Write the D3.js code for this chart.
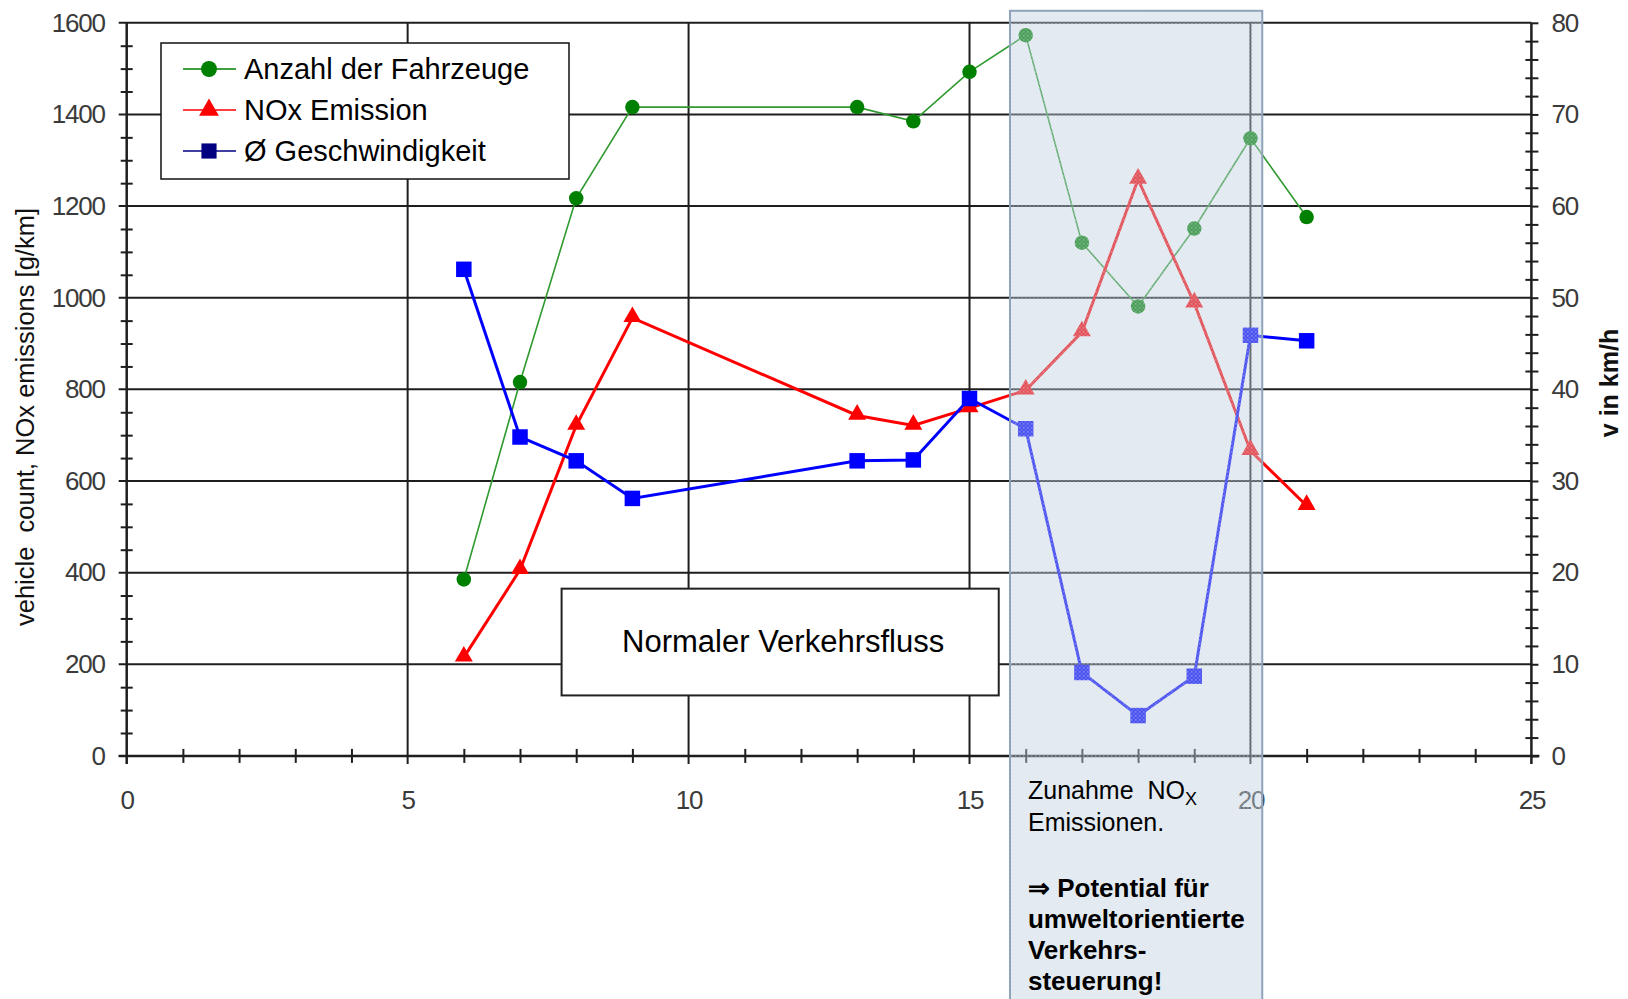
<!DOCTYPE html>
<html><head><meta charset="utf-8">
<script src="https://cdn.jsdelivr.net/npm/d3@7"></script>
<style>body{margin:0;background:#fff;overflow:hidden}</style>
</head><body><svg id="c" width="1628" height="999"></svg>
<script>
// ---- data ----
const xValues = [6,7,8,9,13,14,15,16,17,18,19,20,21];
const vehicleCount = [385,816,1217,1416,1416,1385,1493,1573,1120,981,1151,1348,1176];
const noxEmission = [215,406,721,956,743,721,759,798,925,1258,988,666,546];
const avgSpeed = [53.1,34.8,32.2,28.1,32.2,32.3,39.0,35.7,9.1,4.4,8.7,45.9,45.3];
const xTicks = [0,5,10,15,20,25];
const leftTicks = [0,200,400,600,800,1000,1200,1400,1600];
const rightTicks = [0,10,20,30,40,50,60,70,80];
const seriesNames = ["Anzahl der Fahrzeuge","NOx Emission","Ø Geschwindigkeit"];
const leftAxisTitle = "vehicle  count, NOx emissions [g/km]";
const rightAxisTitle = "v in km/h";
const boxLabel = "Normaler Verkehrsfluss";
const boxRange = {x:[7.74,15.52], y:[365,132]};
const highlightRange = [15.72, 20.21];
const noteLines1 = ["Zunahme  NO", "Emissionen."];
const noteLines2 = ["\u21D2 Potential für", "umweltorientierte", "Verkehrs-", "steuerung!"];

// ---- layout ----
const svg = d3.select("#c");
const m = {left:126.7, top:22.8};
const W = 1404.7, H = 733.1;
const g = svg.append("g").attr("transform",`translate(${m.left},${m.top})`);
const x = d3.scaleLinear().domain([0,25]).range([0,W]);
const yL = d3.scaleLinear().domain([0,1600]).range([H,0]);
const yR = d3.scaleLinear().domain([0,80]).range([H,0]);
const FONT = "'Liberation Sans', Arial, sans-serif";
const gridCol = "#1e1e1e";

// pattern for highlight
const defs = svg.append("defs");
const pat = defs.append("pattern").attr("id","hatch").attr("patternUnits","userSpaceOnUse")
  .attr("width",4).attr("height",4);
pat.append("rect").attr("width",4).attr("height",4).attr("fill","rgba(172,192,214,0.38)");
pat.append("circle").attr("cx",1).attr("cy",1).attr("r",0.9).attr("fill","rgba(255,255,255,0.45)");
pat.append("circle").attr("cx",3).attr("cy",3).attr("r",0.9).attr("fill","rgba(255,255,255,0.3)");

// gridlines
g.append("g").selectAll("line").data(leftTicks).join("line")
  .attr("x1",-8).attr("x2",W).attr("y1",d=>yL(d)).attr("y2",d=>yL(d))
  .attr("stroke",gridCol).attr("stroke-width",2);
g.append("g").selectAll("line").data(xTicks.filter(d=>d>0&&d<25)).join("line")
  .attr("y1",0).attr("y2",H+8).attr("x1",d=>x(d)).attr("x2",d=>x(d))
  .attr("stroke",gridCol).attr("stroke-width",2);

// axes lines
g.append("line").attr("x1",0).attr("x2",0).attr("y1",0).attr("y2",H+8).attr("stroke",gridCol).attr("stroke-width",2.5);
g.append("line").attr("x1",W).attr("x2",W).attr("y1",0).attr("y2",H+8).attr("stroke",gridCol).attr("stroke-width",2.5);
g.append("line").attr("x1",-8).attr("x2",W+8).attr("y1",H).attr("y2",H).attr("stroke",gridCol).attr("stroke-width",2.5);

// minor ticks
const minorL = d3.range(0,1601,50).filter(d=>d%200!==0);
const minorR = d3.range(0,81,2).filter(d=>d%10!==0);
const minorX = d3.range(0,26,1).filter(d=>d%5!==0);
function styleTicks(sel){ sel.select(".domain").remove(); sel.selectAll("line").attr("stroke",gridCol).attr("stroke-width",2); sel.selectAll("text").remove(); }
g.append("g").call(d3.axisLeft(yL).tickValues(minorL).tickSize(6).tickFormat("")).call(styleTicks);
g.append("g").call(d3.axisRight(yL).tickValues(minorL).tickSize(6).tickFormat("")).call(styleTicks);
g.append("g").attr("transform",`translate(${W},0)`).call(d3.axisLeft(yR).tickValues(minorR).tickSize(6).tickFormat("")).call(styleTicks);
g.append("g").attr("transform",`translate(${W},0)`).call(d3.axisRight(yR).tickValues(minorR.concat(rightTicks)).tickSize(7).tickFormat("")).call(styleTicks);
g.append("g").attr("transform",`translate(0,${H})`).call(d3.axisBottom(x).tickValues(minorX).tickSize(7).tickFormat("")).call(styleTicks);
g.append("g").attr("transform",`translate(0,${H})`).call(d3.axisTop(x).tickValues(minorX).tickSize(7).tickFormat("")).call(styleTicks);

// tick labels
const fmt = d3.format("d");
function styleLabels(sel){ sel.select(".domain").remove(); sel.selectAll("line").remove();
  sel.selectAll("text").attr("font-family",FONT).attr("font-size",26).attr("fill","#3a3a3a").attr("letter-spacing","-1.2"); }
g.append("g").call(d3.axisLeft(yL).tickValues(leftTicks).tickFormat(fmt).tickSize(0).tickPadding(22)).call(styleLabels);
g.append("g").attr("transform",`translate(${W},0)`).call(d3.axisRight(yR).tickValues(rightTicks).tickFormat(fmt).tickSize(0).tickPadding(20)).call(styleLabels);
g.append("g").attr("transform",`translate(0,${H})`).call(d3.axisBottom(x).tickValues(xTicks).tickFormat(fmt).tickSize(0).tickPadding(35)).call(styleLabels);

// axis titles
svg.append("text").attr("transform",`translate(34,417) rotate(-90)`).attr("text-anchor","middle")
  .attr("font-family",FONT).attr("font-size",25.5).attr("fill","#111").attr("xml:space","preserve").text(leftAxisTitle);
svg.append("text").attr("transform",`translate(1618,383) rotate(-90)`).attr("text-anchor","middle")
  .attr("font-family",FONT).attr("font-size",25).attr("font-weight","bold").attr("fill","#111").text(rightAxisTitle);

// normal traffic box
g.append("rect").attr("x",x(boxRange.x[0])).attr("y",yL(boxRange.y[0]))
  .attr("width",x(boxRange.x[1])-x(boxRange.x[0])).attr("height",yL(boxRange.y[1])-yL(boxRange.y[0]))
  .attr("fill","#fff").attr("stroke","#222").attr("stroke-width",2);
g.append("text").attr("x",(x(boxRange.x[0])+x(boxRange.x[1]))/2+3).attr("y",(yL(boxRange.y[0])+yL(boxRange.y[1]))/2)
  .attr("dy","0.33em").attr("text-anchor","middle").attr("font-family",FONT).attr("font-size",31).attr("fill","#000").text(boxLabel);

// series
const ptsG = xValues.map((d,i)=>[x(d),yL(vehicleCount[i])]);
const ptsR = xValues.map((d,i)=>[x(d),yL(noxEmission[i])]);
const ptsB = xValues.map((d,i)=>[x(d),yR(avgSpeed[i])]);
const line = d3.line();
g.append("path").attr("d",line(ptsG)).attr("fill","none").attr("stroke","#2f9a2f").attr("stroke-width",1.6);
g.append("path").attr("d",line(ptsR)).attr("fill","none").attr("stroke","#ff0000").attr("stroke-width",3);
g.append("path").attr("d",line(ptsB)).attr("fill","none").attr("stroke","#0000ff").attr("stroke-width",3);
const circ = d3.symbol().type(d3.symbolCircle).size(165);
const tri = d3.symbol().type(d3.symbolTriangle).size(140);
const sq = d3.symbol().type(d3.symbolSquare).size(240);
g.append("g").selectAll("path").data(ptsG).join("path").attr("transform",d=>`translate(${d})`).attr("d",circ).attr("fill","#008000");
g.append("g").selectAll("path").data(ptsR).join("path").attr("transform",d=>`translate(${d[0]},${d[1]-1})`).attr("d",tri).attr("fill","#ff0000");
g.append("g").selectAll("path").data(ptsB).join("path").attr("transform",d=>`translate(${d})`).attr("d",sq).attr("fill","#0000ff");

// highlight overlay
const hx0 = x(highlightRange[0]), hx1 = x(highlightRange[1]);
g.append("rect").attr("x",hx0).attr("y",yL(1600)-12).attr("width",hx1-hx0).attr("height",1100)
  .attr("fill","url(#hatch)").attr("stroke","#8fa3b9").attr("stroke-width",2);

// annotation
const ax = hx0 + 18;
const t1 = g.append("text").attr("font-family",FONT).attr("font-size",25).attr("fill","#000");
t1.append("tspan").attr("x",ax).attr("y",H+43).attr("xml:space","preserve").text(noteLines1[0]);
t1.append("tspan").attr("font-size",18).attr("dy",6).text("X");
g.append("text").attr("font-family",FONT).attr("font-size",25).attr("fill","#000")
  .attr("x",ax).attr("y",H+75).text(noteLines1[1]);
const t2 = g.append("text").attr("font-family",FONT).attr("font-size",26).attr("font-weight","bold").attr("fill","#000");
noteLines2.forEach((s,i)=>t2.append("tspan").attr("x",ax).attr("y",H+141+i*31).text(s));

// legend
const lg = svg.append("g");
lg.append("rect").attr("x",161).attr("y",43).attr("width",408).attr("height",136)
  .attr("fill","#fff").attr("stroke","#111").attr("stroke-width",1.5);
const legCols = ["#008000","#ff0000","#000080"];
const legSyms = [d3.symbol().type(d3.symbolCircle).size(200), d3.symbol().type(d3.symbolTriangle).size(170), d3.symbol().type(d3.symbolSquare).size(230)];
seriesNames.forEach((s,i)=>{
  const yy = 69 + i*41;
  lg.append("line").attr("x1",183).attr("x2",236).attr("y1",yy).attr("y2",yy).attr("stroke",legCols[i]).attr("stroke-width",1.6);
  lg.append("path").attr("transform",`translate(209,${yy})`).attr("d",legSyms[i]).attr("fill",legCols[i]);
  lg.append("text").attr("x",244).attr("y",yy).attr("dy","0.36em").attr("font-family",FONT).attr("font-size",29).attr("fill","#000").text(s);
});
</script></body></html>
